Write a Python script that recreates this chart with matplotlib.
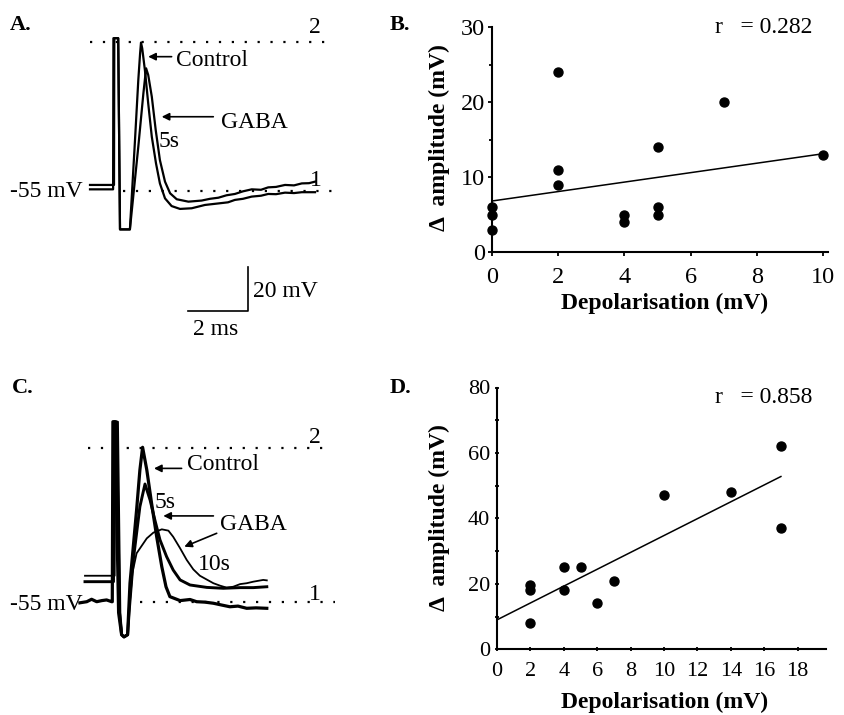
import matplotlib.pyplot as plt

plt.rcParams['font.family'] = ['Liberation Serif', 'DejaVu Serif']

W, H = 844, 715
FS = 17

# ---- panel A traces (ms, mV) ----
a_ctrl_t = [0, 0.77, 0.78, 0.94, 1.0, 1.33, 1.5, 1.61, 1.67, 1.70, 1.74, 1.83, 1.94, 2.06,
            2.20, 2.33, 2.5, 2.72, 3.0, 3.39, 3.83, 4.28, 4.6, 4.83, 5.1, 5.39, 5.7, 5.94,
            6.2, 6.5, 6.8, 7.06, 7.5]
a_ctrl_v = [-54.7, -54.7, 14.0, 14.0, -72.9, -72.9, -32.3, -5.0, 7.1, 12.0, 9.4, -0.5, -15.6,
            -30.8, -42.9, -52.0, -58.8, -62.3, -63.6, -63.3, -61.8, -61.1, -60.6, -59.5, -59.0,
            -58.0, -57.6, -56.8, -56.9, -56.2, -56.4, -56.0, -56.0]
a_gaba_t = [0, 0.80, 0.81, 0.94, 1.0, 1.33, 1.61, 1.78, 1.87, 1.94, 2.06, 2.19, 2.33, 2.5,
            2.67, 2.89, 3.28, 3.72, 4.0, 4.28, 4.55, 4.83, 5.1, 5.39, 5.7, 5.94, 6.2, 6.5,
            6.8, 7.06, 7.3, 7.5]
a_gaba_v = [-52.7, -52.7, 14.0, 14.0, -72.9, -72.9, -35.3, -11.0, 0.3, -2.7, -12.6, -27.7,
            -41.4, -51.2, -56.5, -59.2, -60.3, -59.8, -59.0, -58.5, -57.4, -56.8, -55.6, -54.7,
            -54.9, -53.8, -53.6, -52.7, -52.9, -52.0, -51.9, -51.2]

# ---- panel C traces (ms, mV) ----
c_ctrl_t = [-0.17, 0.06, 0.22, 0.39, 0.56, 0.72, 0.89, 0.91, 0.93, 1.0, 1.12, 1.22, 1.3,
            1.42, 1.5, 1.72, 1.83, 1.92, 2.06, 2.22, 2.39, 2.56, 2.7, 2.83, 3.17, 3.5, 3.72,
            4.0, 4.28, 4.55, 4.83, 5.1, 5.39, 5.7, 6.06]
c_ctrl_v = [-55.5, -55.0, -53.9, -55.0, -54.5, -54.2, -55.0, -55.0, 26.8, 26.8, -60, -70,
            -71, -70, -46.6, -13.3, 4.9, 15.2, 4.9, -10.3, -25.5, -39.1, -48.2, -52.7, -54.5,
            -54.0, -55.0, -55.2, -55.7, -56.5, -57.3, -57.0, -58.0, -57.8, -58.0]
c_5s_t = [0, 0.5, 0.9, 0.95, 0.97, 1.05, 1.15, 1.22, 1.3, 1.42, 1.48, 1.61, 1.83, 2.0, 2.17,
          2.33, 2.5, 2.72, 2.94, 3.17, 3.5, 4.06, 4.61, 5.17, 5.61, 6.06]
c_5s_v = [-45.9, -45.9, -45.9, -45.9, 26.8, 26.8, -60, -70, -71, -70, -58, -36, -11.8, -1.5,
          -8.8, -17.9, -26.9, -34.5, -40.6, -45.1, -47.4, -48.5, -48.9, -48.6, -48.6, -48.2]
c_10s_t = [0, 0.5, 0.9, 0.99, 1.01, 1.1, 1.18, 1.24, 1.3, 1.42, 1.48, 1.58, 1.72, 2.06,
           2.28, 2.56, 2.78, 2.94, 3.17, 3.39, 3.61, 3.83, 4.28, 4.5, 4.72, 4.94, 5.17, 5.39,
           5.61, 5.94, 6.06]
c_10s_v = [-43.2, -43.2, -43.2, -43.2, 26.8, 26.8, -60, -70, -71, -70, -58, -42, -33.0,
           -26.2, -23.6, -22.1, -22.7, -25.5, -30.7, -36.0, -40.3, -43.2, -46.6, -47.7, -48.6,
           -48.2, -47.0, -46.6, -45.9, -45.1, -45.3]

# ---- panel B data ----
b_x = [0, 0, 0, 2, 2, 2, 4, 4, 5, 5, 5, 7, 10]
b_y = [6, 5, 3, 24, 11, 9, 5, 4, 14, 6, 5, 20, 13]
b_fit_x = [0, 10]
b_fit_y = [6.8, 13.1]

# ---- panel D data ----
d_x = [2, 2, 2, 4, 4, 5, 6, 7, 10, 14, 17, 17]
d_y = [19.5, 18, 8, 25, 18, 25, 14, 21, 47, 48, 62, 37]
d_fit_x = [0, 17]
d_fit_y = [9.0, 52.8]

fig = plt.figure(figsize=(W / 100, H / 100), dpi=100)


def arrow(ax, tip, tail):
    ax.annotate('', xy=tip, xytext=tail,
                arrowprops=dict(arrowstyle='-|>', color='black', lw=1.2,
                                mutation_scale=11, shrinkA=0, shrinkB=0))


dots = (0, (1, 4.8))

# ---- A ----
axA = fig.add_axes([0, 1 - 345 / H, 430 / W, 345 / H])
axA.set_xlim(-3, 11.333)
axA.set_ylim(-125.45, 31.36)
axA.axis('off')
axA.plot([0, 8], [12.4, 12.4], color='black', lw=1.6, linestyle=dots)
axA.plot([1.1, 8.27], [-55.3, -55.3], color='black', lw=1.6, linestyle=dots)
axA.text(7.33, -53.2, '1', fontsize=FS, va='baseline', zorder=1)
axA.plot(a_ctrl_t, a_ctrl_v, color='black', lw=1.6, zorder=3)
axA.plot(a_gaba_t, a_gaba_v, color='black', lw=1.6, zorder=3)
axA.text(7.3, 16.2, '2', fontsize=FS, va='baseline')
axA.text(2.87, 1.4, 'Control', fontsize=FS, va='baseline')
arrow(axA, (1.94, 5.6), (2.72, 5.6))
axA.text(4.36, -27.0, 'GABA', fontsize=FS, va='baseline')
arrow(axA, (2.39, -21.7), (4.11, -21.7))
axA.text(2.28, -35.3, '5s', fontsize=FS, va='baseline')
axA.text(-2.67, -58.0, '-55 mV', fontsize=FS, va='baseline')
# scale bar 2 ms / 20 mV
axA.plot([3.27, 5.27, 5.27], [-110, -110, -90], color='black', lw=1.2)
axA.text(5.42, -103.5, '20 mV', fontsize=FS, va='baseline')
axA.text(3.44, -120.9, '2 ms', fontsize=FS, va='baseline')

# ---- C ----
axC = fig.add_axes([0, 0, 430 / W, 340 / H])
axC.set_xlim(-2.833, 11.5)
axC.set_ylim(-106.5, 48.05)
axC.axis('off')
axC.plot([0.1, 8.17], [14.7, 14.7], color='black', lw=1.6, linestyle=dots)
axC.plot([1.83, 8.33], [-55, -55], color='black', lw=1.6, linestyle=dots)
axC.plot(c_ctrl_t, c_ctrl_v, color='black', lw=2.3)
axC.plot(c_5s_t, c_5s_v, color='black', lw=2.1)
axC.plot(c_10s_t, c_10s_v, color='black', lw=1.3)
axC.text(7.47, 17.0, '2', fontsize=FS, va='baseline')
axC.text(7.47, -54.2, '1', fontsize=FS, va='baseline')
axC.text(3.39, 4.9, 'Control', fontsize=FS, va='baseline')
arrow(axC, (2.3, 5.6), (3.22, 5.6))
axC.text(2.33, -12.5, '5s', fontsize=FS, va='baseline')
axC.text(4.5, -22.4, 'GABA', fontsize=FS, va='baseline')
arrow(axC, (2.61, -16.0), (4.28, -16.0))
arrow(axC, (3.31, -30.0), (4.39, -23.9))
axC.text(3.78, -40.6, '10s', fontsize=FS, va='baseline')
axC.text(-2.5, -58.8, '-55 mV', fontsize=FS, va='baseline')

# ---- B ----
axB = fig.add_axes([492 / W, 1 - 252 / H, (828 - 492) / W, (252 - 27) / H])
axB.scatter(b_x, b_y, s=42, color='black', zorder=3, clip_on=False)
axB.plot(b_fit_x, b_fit_y, color='black', lw=1.1)
axB.set_xlim(0, 10.15)
axB.set_ylim(0, 30)
axB.set_xticks([0, 2, 4, 6, 8, 10])
axB.set_yticks([0, 10, 20, 30])
axB.set_yticks([5, 15, 25], minor=True)
for s in ['top', 'right']:
    axB.spines[s].set_visible(False)
for s in ['left', 'bottom']:
    axB.spines[s].set_linewidth(1.5)
axB.tick_params(axis='x', direction='out', length=3, width=1.3, labelsize=17.5, pad=8)
axB.tick_params(axis='y', direction='out', length=3, width=1.3, labelsize=17.5, pad=2)
axB.tick_params(axis='y', which='minor', direction='out', length=2.4, width=1.3)

# ---- D ----
axD = fig.add_axes([497 / W, 1 - 649.3 / H, (826 - 497) / W, (649.3 - 387.5) / H])
axD.scatter(d_x, d_y, s=42, color='black', zorder=3, clip_on=False)
axD.plot(d_fit_x, d_fit_y, color='black', lw=1.1)
axD.set_xlim(0, 19.7)
axD.set_ylim(0, 80)
axD.set_xticks(list(range(0, 19, 2)))
axD.set_yticks([0, 20, 40, 60, 80])
axD.set_yticks([10, 30, 50, 70], minor=True)
for s in ['top', 'right']:
    axD.spines[s].set_visible(False)
for s in ['left', 'bottom']:
    axD.spines[s].set_linewidth(1.5)
axD.tick_params(axis='x', direction='inout', length=3, width=1.3, labelsize=16, pad=8)
axD.tick_params(axis='y', which='both', direction='inout', length=3, width=1.3,
                labelsize=16, pad=3.5)

# ---- axis labels, r values, panel letters ----
for yb, yc in [(309, 138), (708.3, 518)]:
    fig.text(665 / W, 1 - yb / H, 'Depolarisation (mV)', fontsize=FS, fontweight='bold',
             ha='center', va='baseline')
    fig.text(444.5 / W, 1 - yc / H, '\u0394  amplitude (mV)', fontsize=FS,
             fontweight='bold', rotation=90, rotation_mode='anchor',
             ha='center', va='baseline')
fig.text(715 / W, 1 - 33.3 / H, 'r   = 0.282', fontsize=FS, va='baseline')
fig.text(715 / W, 1 - 403 / H, 'r   = 0.858', fontsize=FS, va='baseline')
for lab, x, y in [('A.', 10, 30), ('B.', 390, 30), ('C.', 12, 393), ('D.', 390, 393)]:
    fig.text(x / W, 1 - y / H, lab, fontsize=16, fontweight='bold', va='baseline')

fig.savefig('out.png', dpi=100)
